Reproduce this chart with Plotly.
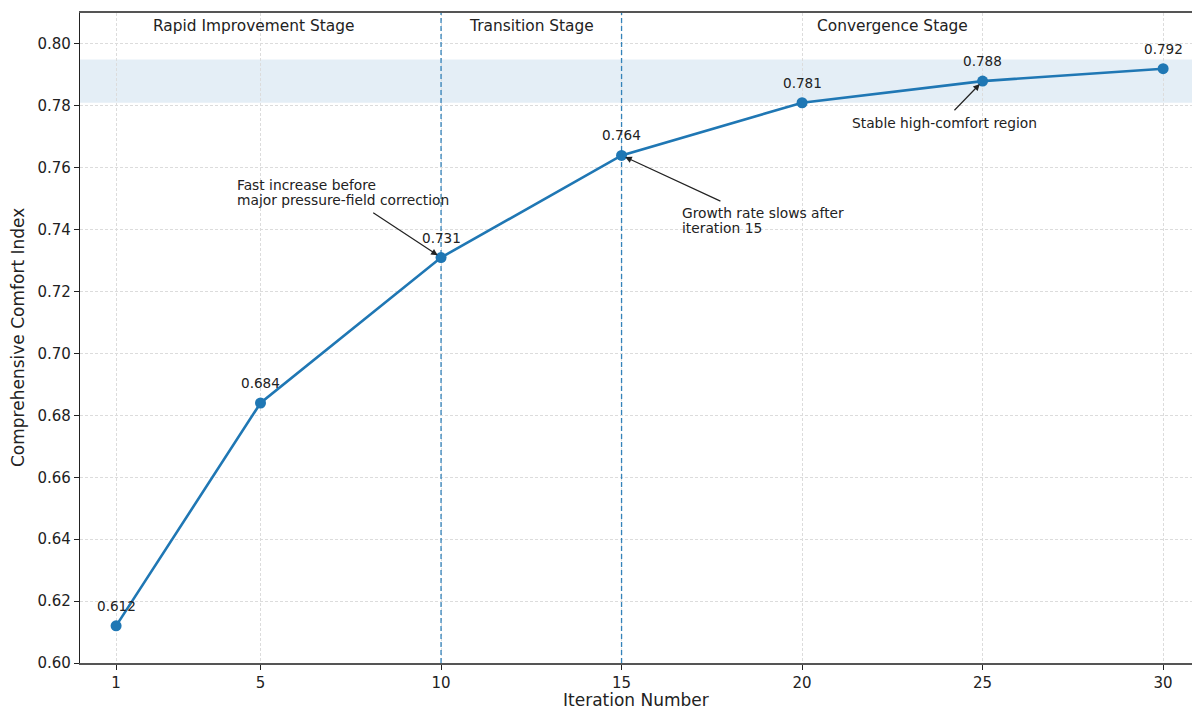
import plotly.graph_objects as go

# ---- data ----
iterations = [1, 5, 10, 15, 20, 25, 30]
comfort_index = [0.612, 0.684, 0.731, 0.764, 0.781, 0.788, 0.792]
x_ticks = [1, 5, 10, 15, 20, 25, 30]
y_ticks = [0.60, 0.62, 0.64, 0.66, 0.68, 0.70, 0.72, 0.74, 0.76, 0.78, 0.80]
stage_boundaries = [10, 15]
stage_names = ["Rapid Improvement Stage", "Transition Stage", "Convergence Stage"]
stage_label_x = [4.8, 12.5, 22.5]
band_low, band_high = 0.781, 0.795
x_title = "Iteration Number"
y_title = "Comprehensive Comfort Index"

# annotation notes: (index of target point, text lines, text x, first-line y, arrow tail x, arrow tail y)
notes = [
    (2, ["Fast increase before", "major pressure-field correction"], 4.29, 0.7544, 8.08, 0.7458),
    (3, ["Growth rate slows after", "iteration 15"], 16.62, 0.7455, 17.78, 0.7490),
    (5, ["Stable high-comfort region"], 21.33, 0.7745, 24.18, 0.7781),
]
line_gap = 15 / 3095.0  # data units per text line

BLUE = "#1f77b4"
TXT = "#222222"
FONT = "DejaVu Sans"

fig = go.Figure()

fig.add_trace(go.Scatter(
    x=iterations, y=comfort_index, mode="lines+markers",
    line=dict(color=BLUE, width=2.6),
    marker=dict(color=BLUE, size=11),
    showlegend=False, hoverinfo="x+y",
))

shapes = [
    dict(type="rect", xref="paper", yref="y", x0=0, x1=1, y0=band_low, y1=band_high,
         fillcolor="rgba(31,119,180,0.12)", line=dict(width=0), layer="below"),
]
for b in stage_boundaries:
    shapes.append(dict(type="line", xref="x", yref="paper", x0=b, x1=b, y0=0, y1=1,
                       line=dict(color="rgba(31,119,180,0.9)", width=1.3, dash="5px,3px")))

annotations = []
for name, sx in zip(stage_names, stage_label_x):
    annotations.append(dict(x=sx, y=0.98, xref="x", yref="paper", text=name, showarrow=False,
                            xanchor="center", yanchor="middle",
                            font=dict(family=FONT, size=15.4, color=TXT)))

for xv, yv in zip(iterations, comfort_index):
    annotations.append(dict(x=xv, y=yv, xref="x", yref="y", text=f"{yv:.3f}", showarrow=False,
                            xanchor="center", yanchor="middle", yshift=20,
                            font=dict(family=FONT, size=13.6, color=TXT)))

for idx, lines, tx, ty, axv, ayv in notes:
    annotations.append(dict(x=iterations[idx], y=comfort_index[idx], xref="x", yref="y",
                            ax=axv, ay=ayv, axref="x", ayref="y", text="",
                            showarrow=True, arrowhead=2, arrowsize=1.1, arrowwidth=1.2,
                            arrowcolor=TXT, standoff=4))
    for k, ln in enumerate(lines):
        annotations.append(dict(x=tx, y=ty - k * line_gap, xref="x", yref="y", text=ln,
                                showarrow=False, xanchor="left", yanchor="middle",
                                font=dict(family=FONT, size=13.8, color=TXT)))

# axis titles
annotations.append(dict(x=0.5, y=0, xref="paper", yref="paper", text=x_title, showarrow=False,
                        xanchor="center", yanchor="middle", yshift=-37,
                        font=dict(family=FONT, size=17, color=TXT)))
annotations.append(dict(x=0, y=0.5, xref="paper", yref="paper", text=y_title, showarrow=False,
                        xanchor="center", yanchor="middle", xshift=-62, textangle=-90,
                        font=dict(family=FONT, size=17, color=TXT)))

fig.update_layout(
    width=1192, height=709,
    margin=dict(l=80, r=0, t=13, b=46, autoexpand=False),
    paper_bgcolor="white", plot_bgcolor="white",
    font=dict(family=FONT, color=TXT),
    shapes=shapes, annotations=annotations,
)

fig.update_xaxes(
    range=[0, 30.8], tickvals=x_ticks, ticktext=[str(t) for t in x_ticks],
    showgrid=True, gridcolor="#dcdcdc", griddash="3px,2px", gridwidth=0.8,
    showline=True, linecolor="#555555", linewidth=2, mirror=True,
    ticks="outside", ticklen=5, tickwidth=1.2, tickcolor=TXT,
    tickfont=dict(family=FONT, size=15, color=TXT),
    zeroline=False, automargin=False,
)
fig.update_yaxes(
    range=[0.60, 0.81], tickvals=y_ticks, ticktext=[f"{t:.2f}" for t in y_ticks],
    showgrid=True, gridcolor="#dcdcdc", griddash="3px,2px", gridwidth=0.8,
    showline=True, linecolor="#222222", linewidth=1.2, mirror=False,
    ticks="outside", ticklen=5, tickwidth=1.2, tickcolor=TXT,
    tickfont=dict(family=FONT, size=15, color=TXT),
    zeroline=False, automargin=False,
)

fig.write_html(
    "out.html",
    config={"displayModeBar": False},
    post_script="document.body.style.margin='0';document.body.style.overflow='hidden';",
)
